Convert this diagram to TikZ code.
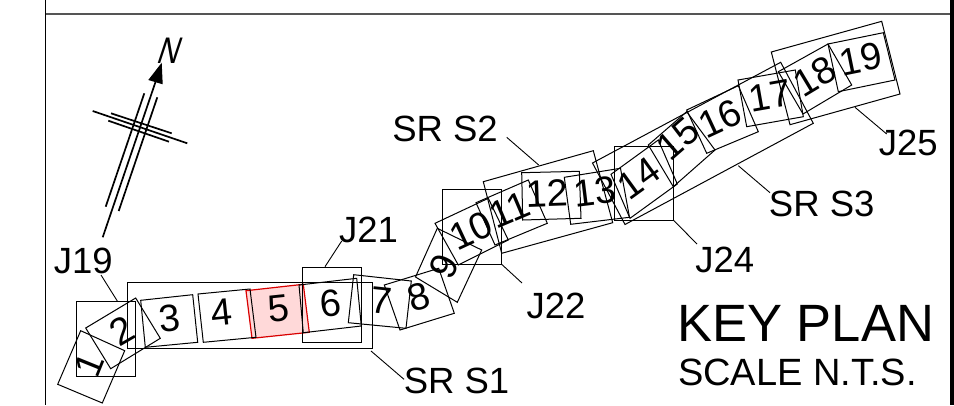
\documentclass[tikz,border=0pt]{standalone}
\usepackage{fontspec}
\setmainfont{Liberation Sans}
\newfontfamily\northfont[FakeSlant=0.33,FakeStretch=0.8]{Liberation Sans}
\definecolor{panelpink}{HTML}{FFD9D9}
\definecolor{framegrey}{HTML}{555555}
\tikzset{
  thin box/.style={draw=black,line width=1pt,line join=miter},
  redpanel/.style={draw=red!85!black,fill=panelpink,line width=1.2pt},
  leader/.style={draw=black,line width=0.9pt},
  northline/.style={draw=black,line width=1.7pt},
  num/.style={font=\fontsize{38}{38}\selectfont,inner sep=0pt,text=black},
  lbl/.style={font=\fontsize{36.5}{37}\selectfont,inner sep=0pt,text=black},
}
\begin{document}
\begin{tikzpicture}[x=1pt,y=-1pt]
\useasboundingbox (0,0) rectangle (954,405);
\fill[white] (0,0) rectangle (954,405);
% frame
\coordinate (ftl) at (45.5,14);
\coordinate (ftr) at (950,14);
\draw[framegrey,line width=1.2pt] (ftl) -- (ftr);
\draw[black,line width=1.5pt] (45.5,0) -- (45.5,405);
\fill[black] (950,0) rectangle (954,405);
% highlighted panel
\draw[redpanel] (246,290.7) -- (303.3,284.3) -- (309.3,332.3) -- (252,338.3) -- cycle;
% panels
\draw[thin box] (80.7,330.7) -- (124.7,350.7) -- (102.3,403) -- (57.7,384.3) -- cycle;
\draw[thin box] (85.7,328) -- (135.7,298) -- (160.3,338.3) -- (110.7,368.7) -- cycle;
\draw[thin box] (140.7,300.3) -- (192.7,294.7) -- (197.7,342.3) -- (145.3,347.3) -- cycle;
\draw[thin box] (198,294) -- (250,289) -- (256,337.3) -- (203.3,342.3) -- cycle;
\draw[thin box] (299,285) -- (356.7,278.3) -- (361.3,326) -- (303.3,332.7) -- cycle;
\draw[thin box] (353.7,274.7) -- (411.3,281) -- (406,328.3) -- (348.3,322.7) -- cycle;
\draw[thin box] (384.3,285) -- (438.7,268.3) -- (454.3,313.3) -- (400,330) -- cycle;
\draw[thin box] (437.3,228.3) -- (481.7,250) -- (457.3,302.3) -- (415.5,277) -- cycle;
\draw[thin box] (435,223.3) -- (488.3,198.3) -- (508.3,240) -- (458.3,265) -- cycle;
\draw[thin box] (476,202.7) -- (528.3,180) -- (547.3,223.3) -- (495,245) -- cycle;
\draw[thin box] (521.7,172.7) -- (579.3,171.3) -- (581,218.3) -- (522.7,220) -- cycle;
\draw[thin box] (564.3,177.3) -- (620.5,168.3) -- (629.5,217.3) -- (570.7,224.3) -- cycle;
\draw[thin box] (611,174.3) -- (658.3,140) -- (677.3,184) -- (630,218.3) -- cycle;
\draw[thin box] (648.3,145) -- (686.7,111.7) -- (715,150) -- (673.3,186.7) -- cycle;
\draw[thin box] (686.7,110) -- (738.3,85.7) -- (758.3,131.7) -- (706.7,153.3) -- cycle;
\draw[thin box] (738,80) -- (795.3,70) -- (803.3,116.7) -- (746.7,126.7) -- cycle;
\draw[thin box] (778.3,71.7) -- (828,44) -- (851.7,85) -- (803,114) -- cycle;
\draw[thin box] (828,44) -- (883.3,32.7) -- (895,80) -- (838.3,91.7) -- cycle;
% group outlines
\draw[thin box] (127.3,282) rectangle (372.3,348.7);
\draw[thin box] (76.3,301.7) rectangle (135.7,376);
\draw[thin box] (302.7,267.3) rectangle (361.3,342);
\draw[thin box] (442.7,189.7) rectangle (501.3,264);
\draw[thin box] (614.3,146) rectangle (673.3,220);
\draw[thin box] (483.3,181.7) -- (593.3,150.7) -- (612.7,222.7) -- (501.7,253.3) -- cycle;
\draw[thin box] (592.5,163) -- (780.7,62.3) -- (813.3,123.3) -- (625,224.5) -- cycle;
\draw[thin box] (771.3,52) -- (881.7,21.3) -- (900,94) -- (790,124.7) -- cycle;
% numbers
\node[num,rotate=68] (n1) at (89,365) {1};
\node[num,rotate=30] (n2) at (122.3,330.7) {2};
\node[num,rotate=6] (n3) at (169.3,318.3) {3};
\node[num,rotate=6] (n4) at (221.7,312.3) {4};
\node[num,rotate=6] (n5) at (279,308.3) {5};
\node[num,rotate=6] (n6) at (331,303.3) {6};
\node[num,rotate=-6] (n7) at (381,301) {7};
\node[num,rotate=17] (n8) at (419,296.7) {8};
\node[num,rotate=65] (n9) at (444.3,266) {9};
\node[num,rotate=25] (n10) at (470.7,230.5) {10};
\node[num,rotate=23] (n11) at (510,210) {11};
\node[num,rotate=2] (n12) at (546.7,193.3) {12};
\node[num,rotate=7] (n13) at (595,191.7) {13};
\node[num,rotate=36] (n14) at (639.3,178.3) {14};
\node[num,rotate=41] (n15) at (678,139) {15};
\node[num,rotate=25] (n16) at (720,118.3) {16};
\node[num,rotate=10] (n17) at (770,96) {17};
\node[num,rotate=31] (n18) at (815,76.5) {18};
\node[num,rotate=11.5] (n19) at (861,59) {19};
% labels
\node[lbl] (j19) at (83.3,261) {J19};
\node[lbl] (j21) at (368.5,230) {J21};
\node[lbl] (j22) at (556,306) {J22};
\node[lbl] (j24) at (724.7,260) {J24};
\node[lbl] (j25) at (908.3,143) {J25};
\node[lbl] (s1) at (456.5,380.5) {SR S1};
\node[lbl] (s2) at (445,129) {SR S2};
\node[lbl] (s3) at (821.7,203.5) {SR S3};
\node[inner sep=0pt,font=\fontsize{52.5}{53}\selectfont] (kp) at (805.7,323.3) {KEY PLAN};
\node[inner sep=0pt,font=\fontsize{38}{39}\selectfont] (sc) at (797.5,372.5) {SCALE N.T.S.};
% leaders
\coordinate (a19) at (117.3,301);
\coordinate (a21) at (325,266.7);
\coordinate (a22) at (501.3,264);
\coordinate (a24) at (673.3,220);
\coordinate (a25) at (855,107.3);
\coordinate (as1) at (371,351);
\coordinate (as2) at (538.7,165);
\coordinate (as3) at (738.3,165.7);
\draw[leader] (101,275) -- (a19);
\draw[leader] (341.7,241) -- (a21);
\draw[leader] (522,283) -- (a22);
\draw[leader] (697,244) -- (a24);
\draw[leader] (886.7,134) -- (a25);
\draw[leader] (404,379.3) -- (as1);
\draw[leader] (506.7,137.3) -- (as2);
\draw[leader] (770,192.7) -- (as3);
% north arrow
\coordinate (ntip) at (161.7,62.7);
\coordinate (nb1) at (148.3,80);
\coordinate (nb2) at (162.7,84.3);
\coordinate (nbm) at (155.5,82);
\draw[northline] (102.7,237.3) -- (nbm);
\fill[black] (ntip) -- (nb1) -- (nb2) -- cycle;
\draw[northline] (105.7,206.7) -- (144.3,93.3);
\draw[northline] (118.7,211) -- (157.3,97.3);
\draw[northline] (92.7,111) -- (187.3,143.3);
\draw[northline] (111,113.3) -- (171.7,133.3);
\draw[northline] (108.3,120.7) -- (169,141.7);
\node[inner sep=0pt,font=\northfont\fontsize{37}{37}\selectfont] (north) at (166,50.5) {N};
\end{tikzpicture}
\end{document}
